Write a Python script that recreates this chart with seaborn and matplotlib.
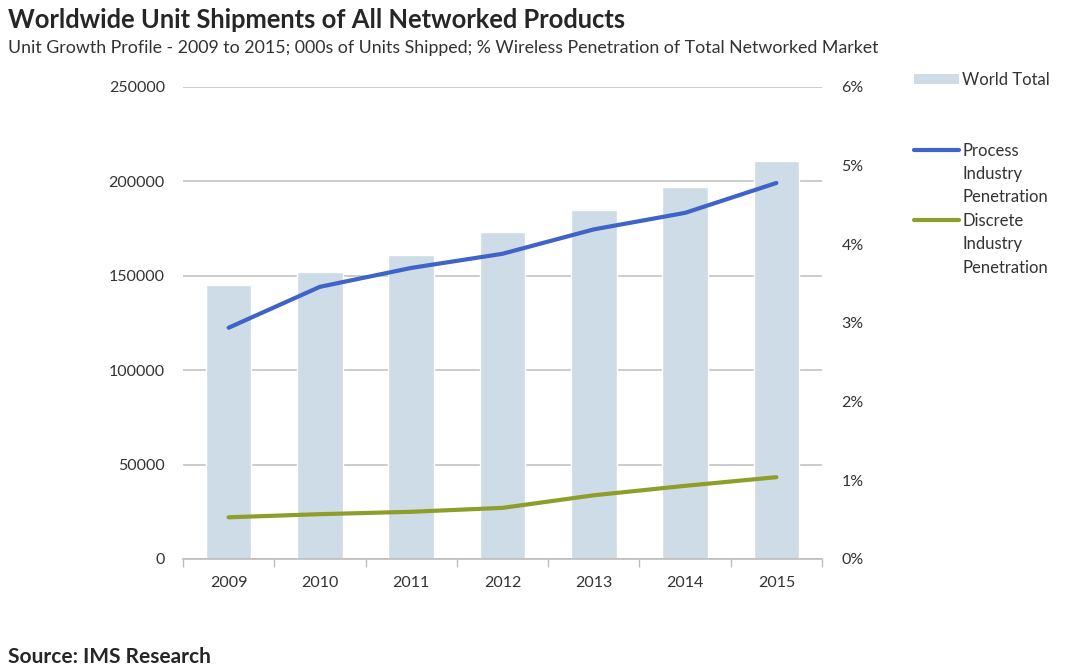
import matplotlib
matplotlib.use("Agg")
import matplotlib.pyplot as plt
import matplotlib.ticker as mticker
from matplotlib.lines import Line2D
from matplotlib.patches import Patch
import seaborn as sns
import pandas as pd

years = ["2009", "2010", "2011", "2012", "2013", "2014", "2015"]
world_total = [145000, 152000, 161000, 173000, 185000, 197000, 211000]
process_pen = [2.94, 3.46, 3.70, 3.88, 4.19, 4.40, 4.78]
discrete_pen = [0.53, 0.57, 0.60, 0.65, 0.81, 0.93, 1.04]
left_ticks = [0, 50000, 100000, 150000, 200000, 250000]
right_ticks = [0, 1, 2, 3, 4, 5, 6]

df = pd.DataFrame({"year": years, "total": world_total,
                   "process": process_pen, "discrete": discrete_pen})

sns.set_theme(style="white")
plt.rcParams["font.family"] = ["Lato", "DejaVu Sans"]

BAR = "#cddce6"
BLUE = "#3f63c6"
GREEN = "#8e9e2b"
TXT = "#333333"
GRID = "#c4c4c4"

fig = plt.figure(figsize=(10.66, 6.70), dpi=100)
ax = fig.add_axes([183/1066, 1-559/670, (822-183)/1066, (559-87)/670])

sns.barplot(data=df, x="year", y="total", color=BAR, saturation=1,
            width=0.5, ax=ax)
ax.set_xlim(-0.5, 6.5)
ax.set_ylim(0, 250000)
ax.set_yticks(left_ticks)
ax.set_yticklabels([str(v) for v in left_ticks])
ax.yaxis.grid(True, color=GRID, lw=1.2)
ax.set_axisbelow(True)
for s in ["left", "right", "top"]:
    ax.spines[s].set_visible(False)
ax.spines["bottom"].set_color("#bdbdbd")
ax.spines["bottom"].set_linewidth(1.2)
ax.set_xlabel("")
ax.set_ylabel("")
ax.xaxis.set_minor_locator(mticker.FixedLocator([i - 0.5 for i in range(8)]))
ax.tick_params(axis="x", which="major", length=0, pad=12, labelsize=11.5, labelcolor=TXT)
ax.tick_params(axis="x", which="minor", bottom=True, length=6, width=1, color="#bdbdbd", direction="out")
ax.tick_params(axis="y", length=0, pad=13, labelsize=11.5, labelcolor=TXT)

ax2 = ax.twinx()
sns.lineplot(data=df, x="year", y="process", color=BLUE, lw=3, sort=False, ax=ax2)
sns.lineplot(data=df, x="year", y="discrete", color=GREEN, lw=3, sort=False, ax=ax2)
ax2.set_ylim(0, 6)
ax2.set_yticks(right_ticks)
ax2.yaxis.set_major_formatter(mticker.FuncFormatter(lambda v, p: f"{v:.0f}%"))
for s in ["left", "right", "top", "bottom"]:
    ax2.spines[s].set_visible(False)
ax2.tick_params(axis="y", length=0, pad=14, labelsize=11.5, labelcolor=TXT)
ax2.set_ylabel("")
ax2.set_xlabel("")
ax2.grid(False)
ax.set_xlim(-0.5, 6.5)

blank = Line2D([], [], linestyle="none")
handles = [Patch(facecolor=BAR, edgecolor="none"), blank, blank,
           Line2D([], [], color=BLUE, lw=3), blank, blank,
           Line2D([], [], color=GREEN, lw=3), blank, blank]
labels = ["World Total", " ", " ", "Process", "Industry", "Penetration",
          "Discrete", "Industry", "Penetration"]
leg = fig.legend(handles, labels, loc="upper left",
                 bbox_to_anchor=(914/1066, 1-72/670), frameon=False,
                 fontsize=12, handlelength=2.7, handleheight=0.6,
                 handletextpad=0.2, labelspacing=0.45, borderaxespad=0,
                 borderpad=0)
for t in leg.get_texts():
    t.set_color(TXT)

fig.text(8/1066, 1-20/670, "Worldwide Unit Shipments of All Networked Products",
         fontsize=18.4, fontweight="bold", color="#262626", va="center", ha="left")
fig.text(8/1066, 1-48/670,
         "Unit Growth Profile - 2009 to 2015; 000s of Units Shipped; % Wireless Penetration of Total Networked Market",
         fontsize=12.8, color=TXT, va="center", ha="left")
fig.text(8/1066, 1-657/670, "Source: IMS Research",
         fontsize=15, fontweight="bold", color="#262626", va="center", ha="left")

fig.savefig("out.png", dpi=100)
